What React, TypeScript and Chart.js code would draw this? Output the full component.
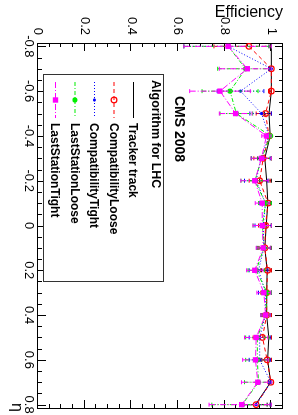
import React, { useEffect, useRef } from 'react';
import { Chart, registerables } from 'chart.js';

Chart.register(...registerables);

// ---- data ----
const etaBins = [-0.8, -0.7, -0.6, -0.5, -0.4, -0.3, -0.2, -0.1, 0, 0.1, 0.2, 0.3, 0.4, 0.5, 0.6, 0.7, 0.8];
const trackerEff = [1.0, 1.0, 1.0, 0.99, 0.995, 0.972, 0.98, 0.985, 0.978, 0.972, 0.982, 0.98, 0.98, 0.989, 0.984, 0.997, 0.932];
const compLooseEff = [0.904, 1.0, 1.0, 0.975, 0.99, 0.965, 0.95, 0.986, 0.975, 0.972, 0.984, 0.98, 0.98, 0.962, 0.982, 0.998, 0.935];
const compTightEff = [0.815, 1.0, 0.868, 0.958, 0.99, 0.955, 0.935, 0.975, 0.965, 0.968, 0.945, 0.975, 0.975, 0.95, 0.95, 0.998, 0.935];
const lsLooseEff = [0.815, 0.89, 0.823, 0.85, 0.997, 0.958, 0.93, 0.975, 0.962, 0.968, 0.935, 0.982, 0.975, 0.94, 0.94, 0.945, 0.875];
const lsTightEff = [0.815, 0.897, 0.78, 0.847, 0.979, 0.958, 0.929, 0.961, 0.961, 0.965, 0.929, 0.968, 0.975, 0.935, 0.932, 0.942, 0.873];

const trackerErr = [0.01, 0.01, 0.01, 0.02, 0.01, 0.03, 0.03, 0.02, 0.025, 0.025, 0.025, 0.02, 0.02, 0.02, 0.025, 0.01, 0.05];
const compLooseErr = [0.15, 0.01, 0.01, 0.04, 0.01, 0.04, 0.045, 0.02, 0.03, 0.03, 0.03, 0.025, 0.02, 0.04, 0.03, 0.01, 0.06];
const compTightErr = [0.19, 0.01, 0.1, 0.05, 0.01, 0.04, 0.05, 0.025, 0.035, 0.03, 0.04, 0.03, 0.02, 0.045, 0.045, 0.01, 0.06];
const lsLooseErr = [0.19, 0.12, 0.12, 0.07, 0.01, 0.045, 0.06, 0.03, 0.04, 0.03, 0.035, 0.025, 0.02, 0.05, 0.05, 0.06, 0.13];
const lsTightErr = [0.19, 0.12, 0.13, 0.07, 0.02, 0.045, 0.06, 0.03, 0.04, 0.03, 0.035, 0.03, 0.02, 0.05, 0.055, 0.07, 0.14];

const seriesNames = ['Tracker track', 'CompatibilityLoose', 'CompatibilityTight', 'LastStationLoose', 'LastStationTight'];
const etaTicks = [-0.8, -0.6, -0.4, -0.2, 0, 0.2, 0.4, 0.6, 0.8];
const effTicks = [0, 0.2, 0.4, 0.6, 0.8, 1];
const legendHeader = 'Algorithm for LHC';
const cmsLabel = 'CMS 2008';
const xTitle = 'η';
const yTitle = 'Efficiency';

// ---- styles ----
type Style = { color: string; dash: number[]; marker: 'none' | 'open' | 'dot' | 'circle' | 'square'; radius: number };
const styles: Style[] = [
  { color: '#000000', dash: [], marker: 'none', radius: 0 },
  { color: '#ff0000', dash: [4, 3], marker: 'open', radius: 2.8 },
  { color: '#0000ff', dash: [1, 2], marker: 'dot', radius: 1.6 },
  { color: '#00ee00', dash: [4, 2, 1, 2], marker: 'circle', radius: 2.6 },
  { color: '#ff00ff', dash: [6, 2, 1, 2], marker: 'square', radius: 3.8 },
];
const effSeries = [trackerEff, compLooseEff, compTightEff, lsLooseEff, lsTightEff];
const errSeries = [trackerErr, compLooseErr, compTightErr, lsLooseErr, lsTightErr];

const FONT = '"Liberation Sans", Arial, Helvetica, sans-serif';

function drawMarker(ctx: CanvasRenderingContext2D, st: Style, x: number, y: number) {
  if (st.marker === 'none') return;
  ctx.save();
  ctx.setLineDash([]);
  ctx.fillStyle = st.color;
  ctx.strokeStyle = st.color;
  ctx.lineWidth = 1.2;
  if (st.marker === 'square') {
    const s = st.radius * Math.SQRT1_2;
    ctx.fillRect(x - s, y - s, 2 * s, 2 * s);
  } else {
    ctx.beginPath();
    ctx.arc(x, y, st.radius, 0, Math.PI * 2);
    if (st.marker === 'open') ctx.stroke();
    else ctx.fill();
  }
  ctx.restore();
}

const framePlugin = {
  id: 'rootFrame',
  beforeDatasetsDraw(chart: any) {
    const { ctx, chartArea: a, scales } = chart;
    const xs = scales.x, ys = scales.y;
    ctx.save();
    ctx.strokeStyle = '#000';
    ctx.lineWidth = 1;
    ctx.setLineDash([]);
    ctx.strokeRect(Math.round(a.left) + 0.5, Math.round(a.top) + 0.5, Math.round(a.right - a.left), Math.round(a.bottom - a.top));
    ctx.beginPath();
    for (let k = -16; k <= 16; k++) {
      const px = Math.round(xs.getPixelForValue(k * 0.05)) + 0.5;
      const len = k % 4 === 0 ? 8 : 4;
      ctx.moveTo(px, a.bottom);
      ctx.lineTo(px, a.bottom - len);
      ctx.moveTo(px, a.top);
      ctx.lineTo(px, a.top + len);
    }
    for (let k = 0; k <= 21; k++) {
      const py = Math.round(ys.getPixelForValue(k * 0.05)) + 0.5;
      const len = k % 4 === 0 ? 8 : 4;
      ctx.moveTo(a.left, py);
      ctx.lineTo(a.left + len, py);
      ctx.moveTo(a.right, py);
      ctx.lineTo(a.right - len, py);
    }
    ctx.stroke();
    ctx.restore();
  },
  beforeDatasetDraw(chart: any, args: any) {
    const i = args.index;
    const st = styles[i];
    const eff = effSeries[i];
    const err = errSeries[i];
    const { ctx, scales } = chart;
    const xs = scales.x, ys = scales.y;
    ctx.save();
    ctx.strokeStyle = st.color;
    ctx.lineWidth = 1;
    ctx.setLineDash(st.dash);
    ctx.beginPath();
    etaBins.forEach((eta, k) => {
      const px = xs.getPixelForValue(eta);
      const lo = ys.getPixelForValue(Math.max(0, eff[k] - err[k]));
      const hi = ys.getPixelForValue(Math.min(1, eff[k] + err[k]));
      ctx.moveTo(px, lo);
      ctx.lineTo(px, hi);
    });
    ctx.stroke();
    ctx.setLineDash([]);
    ctx.beginPath();
    etaBins.forEach((eta, k) => {
      const px = xs.getPixelForValue(eta);
      const lo = ys.getPixelForValue(Math.max(0, eff[k] - err[k]));
      const hi = ys.getPixelForValue(Math.min(1, eff[k] + err[k]));
      ctx.moveTo(px - 2, lo);
      ctx.lineTo(px + 2, lo);
      ctx.moveTo(px - 2, hi);
      ctx.lineTo(px + 2, hi);
    });
    ctx.stroke();
    ctx.restore();
  },
  afterDraw(chart: any) {
    const { ctx, chartArea: a } = chart;
    ctx.save();
    ctx.fillStyle = '#000';
    // y title
    ctx.save();
    ctx.translate(17, a.top);
    ctx.rotate(-Math.PI / 2);
    ctx.font = `16px ${FONT}`;
    ctx.textAlign = 'right';
    ctx.textBaseline = 'alphabetic';
    ctx.fillText(yTitle, 0, 0);
    ctx.restore();
    // x title
    ctx.font = `16px ${FONT}`;
    ctx.textAlign = 'right';
    ctx.textBaseline = 'alphabetic';
    ctx.fillText(xTitle, a.right + 4, 286);
    // CMS label
    ctx.font = `bold 14px ${FONT}`;
    ctx.textAlign = 'left';
    ctx.fillText(cmsLabel, 96, 123);
    // legend
    const bx = 74.5, by = 134.5, bw = 207, bh = 120;
    ctx.fillStyle = '#fff';
    ctx.fillRect(bx, by, bw, bh);
    ctx.strokeStyle = '#333';
    ctx.lineWidth = 1;
    ctx.strokeRect(bx, by, bw, bh);
    ctx.fillStyle = '#000';
    ctx.font = `bold 12.5px ${FONT}`;
    ctx.fillText(legendHeader, 80, 145.5);
    ctx.font = `bold 12px ${FONT}`;
    const rows = [164, 183.5, 203, 222.5, 242];
    seriesNames.forEach((name, i) => {
      const st = styles[i];
      const y = rows[i];
      ctx.save();
      ctx.strokeStyle = st.color;
      ctx.lineWidth = 1;
      ctx.setLineDash(st.dash);
      ctx.beginPath();
      ctx.moveTo(82, y + 0.5);
      ctx.lineTo(118, y + 0.5);
      ctx.stroke();
      ctx.restore();
      drawMarker(ctx, st, 100, y + 0.5);
      ctx.fillStyle = '#000';
      ctx.fillText(name, 123, y + 4.5);
    });
    ctx.restore();
  },
};

export default function App() {
  const ref = useRef<HTMLCanvasElement | null>(null);
  useEffect(() => {
    if (!ref.current) return;
    const datasets = seriesNames.map((name, i) => {
      const st = styles[i];
      return {
        label: name,
        data: etaBins.map((x, k) => ({ x, y: effSeries[i][k] })),
        showLine: true,
        borderColor: st.color,
        borderWidth: 1,
        borderDash: st.dash,
        backgroundColor: st.color,
        pointStyle: st.marker === 'square' ? 'rect' : 'circle',
        pointRadius: st.radius,
        pointBorderWidth: st.marker === 'open' ? 1.2 : 0,
        pointBackgroundColor: st.marker === 'open' ? 'rgba(0,0,0,0)' : st.color,
        pointBorderColor: st.color,
        order: 5 - i,
        tension: 0,
      };
    });
    const chart = new Chart(ref.current, {
      type: 'scatter',
      data: { datasets: datasets as any },
      options: {
        animation: false,
        responsive: false,
        devicePixelRatio: 1,
        events: [],
        layout: { padding: { top: 15, right: 7, left: 0, bottom: 0 } },
        plugins: { legend: { display: false }, tooltip: { enabled: false } },
        scales: {
          x: {
            type: 'linear',
            position: 'bottom',
            min: -0.815,
            max: 0.815,
            grid: { display: false, drawTicks: false },
            border: { display: false },
            afterBuildTicks: (s: any) => {
              s.ticks = etaTicks.map((v) => ({ value: v }));
            },
            afterFit: (s: any) => {
              s.height = 38;
              s.paddingLeft = 0;
              s.paddingRight = 0;
            },
            ticks: {
              autoSkip: false,
              maxRotation: 0,
              minRotation: 0,
              padding: 2,
              color: '#000',
              font: { family: FONT, size: 13 },
              callback: (v: any) => (v === 0 ? '0' : Number(v).toFixed(1)),
            },
          },
          y: {
            type: 'linear',
            min: 0,
            max: 1.05,
            grid: { display: false, drawTicks: false },
            border: { display: false },
            afterBuildTicks: (s: any) => {
              s.ticks = effTicks.map((v) => ({ value: v }));
            },
            afterFit: (s: any) => {
              s.width = 43;
              s.paddingTop = 0;
              s.paddingBottom = 0;
            },
            ticks: {
              autoSkip: false,
              padding: 8,
              color: '#000',
              font: { family: FONT, size: 13 },
              callback: (v: any) => (v === 0 ? '0' : v === 1 ? '1' : Number(v).toFixed(1)),
            },
          },
        },
      },
      plugins: [framePlugin as any],
    });
    return () => chart.destroy();
  }, []);

  return (
    <div style={{ position: 'fixed', left: 0, top: 0, width: 298, height: 415, overflow: 'hidden', background: '#fff' }}>
      <canvas
        ref={ref}
        width={415}
        height={298}
        style={{
          position: 'absolute',
          left: 0,
          top: 0,
          width: 415,
          height: 298,
          transformOrigin: '0 0',
          transform: 'translate(298px, 0px) rotate(90deg)',
        }}
      />
    </div>
  );
}
